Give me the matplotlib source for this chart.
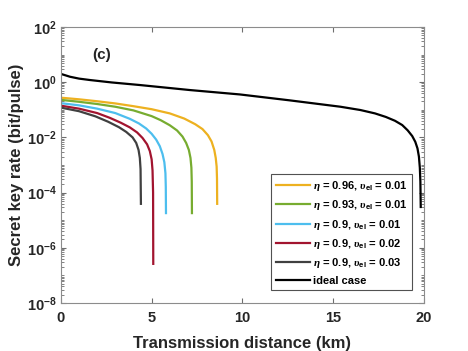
import matplotlib
matplotlib.use('Agg')
import matplotlib.pyplot as plt
from matplotlib.ticker import FixedLocator, NullFormatter, LogFormatterMathtext

plt.rcParams['font.family'] = ['Liberation Sans', 'DejaVu Sans']
plt.rcParams['font.weight'] = 'bold'
plt.rcParams['mathtext.fontset'] = 'custom'
plt.rcParams['mathtext.it'] = 'Liberation Serif:italic'
plt.rcParams['mathtext.rm'] = 'Liberation Sans:bold'
plt.rcParams['mathtext.sf'] = 'Liberation Sans:bold'

# curves (distance km, key rate bit/pulse)
x_096 = [0, 1.0, 2.0, 3.0, 4.0, 5.0, 6.0, 6.8, 7.4, 7.8, 8.1, 8.3, 8.45, 8.53, 8.58, 8.6, 8.61]
y_096 = [0.275, 0.24, 0.204, 0.17, 0.135, 0.105, 0.074, 0.048, 0.030, 0.020, 0.012, 7.1e-3, 3.5e-3, 1.8e-3, 8.7e-4, 3.2e-4, 3.9e-5]

x_093 = [0, 1.0, 2.0, 3.0, 4.0, 5.0, 5.5, 6.0, 6.4, 6.7, 6.9, 7.05, 7.14, 7.19, 7.21, 7.22]
y_093 = [0.229, 0.195, 0.162, 0.129, 0.095, 0.059, 0.042, 0.0275, 0.0178, 0.0107, 6.3e-3, 3.5e-3, 1.8e-3, 7.9e-4, 2.5e-4, 1.8e-5]

x_090a = [0, 1.0, 2.0, 3.0, 3.8, 4.3, 4.7, 5.0, 5.25, 5.45, 5.6, 5.7, 5.76, 5.78, 5.79]
y_090a = [0.174, 0.145, 0.110, 0.076, 0.047, 0.032, 0.021, 0.0135, 8.3e-3, 4.8e-3, 2.5e-3, 1.26e-3, 5.0e-4, 1.6e-4, 1.8e-5]

x_090b = [0, 1.0, 2.0, 2.7, 3.3, 3.8, 4.2, 4.5, 4.75, 4.9, 5.0, 5.05, 5.08, 5.09]
y_090b = [0.141, 0.110, 0.076, 0.051, 0.034, 0.023, 0.0151, 9.5e-3, 5.6e-3, 3.2e-3, 1.6e-3, 6.3e-4, 1e-4, 2.6e-7]

x_090c = [0, 1.0, 1.9, 2.6, 3.2, 3.6, 3.95, 4.15, 4.28, 4.35, 4.39, 4.41]
y_090c = [0.120, 0.089, 0.058, 0.037, 0.0234, 0.0158, 0.010, 6.3e-3, 3.5e-3, 1.8e-3, 7.1e-4, 3.9e-5]

x_ideal = [0, 0.25, 0.5, 1.0, 1.6, 2.8, 4.35, 7.1, 9.86, 12.6, 15.4, 16.5, 17.3, 17.9, 18.4, 18.8,
           19.1, 19.35, 19.52, 19.64, 19.72, 19.77, 19.8, 19.82]
y_ideal = [2.0, 1.78, 1.58, 1.35, 1.20, 0.98, 0.79, 0.52, 0.36, 0.22, 0.129, 0.098, 0.074, 0.055, 0.040, 0.028,
           0.018, 0.0112, 6.9e-3, 4.0e-3, 2.0e-3, 8.0e-4, 2.5e-4, 3.0e-5]

series = [
    (x_096, y_096, '#EDB120', r'$\eta$ = 0.96, $\upsilon_{\mathsf{el}}$ = 0.01'),
    (x_093, y_093, '#77AC30', r'$\eta$ = 0.93, $\upsilon_{\mathsf{el}}$ = 0.01'),
    (x_090a, y_090a, '#4DBEEE', r'$\eta$ = 0.9, $\upsilon_{\mathsf{el}}$ = 0.01'),
    (x_090b, y_090b, '#A2142F', r'$\eta$ = 0.9, $\upsilon_{\mathsf{el}}$ = 0.02'),
    (x_090c, y_090c, '#404040', r'$\eta$ = 0.9, $\upsilon_{\mathsf{el}}$ = 0.03'),
    (x_ideal, y_ideal, 'black', 'ideal case'),
]

fig = plt.figure(figsize=(4.68, 3.51), dpi=100)
ax = fig.add_axes([0.130, 0.137, 0.776, 0.786])

for xs, ys, c, lab in series:
    ax.plot(xs, ys, color=c, lw=1.6, label=lab)

ax.set_yscale('log')
ax.set_xlim(0, 20)
ax.set_ylim(1e-8, 1e2)
ax.set_xticks([0, 5, 10, 15, 20])
ax.set_yticks([1e-8, 1e-6, 1e-4, 1e-2, 1e0, 1e2])
ax.yaxis.set_major_formatter(LogFormatterMathtext())
minor = [m * 10.0 ** e for e in range(-8, 2) for m in range(1, 10) if not (m == 1 and e % 2 == 0)]
ax.yaxis.set_minor_locator(FixedLocator(minor))
ax.yaxis.set_minor_formatter(NullFormatter())

dark = '#262626'
for s in ax.spines.values():
    s.set_color('#8c8c8c')
    s.set_linewidth(0.8)
ax.tick_params(which='both', direction='in', top=True, right=True, color='#6e6e6e', labelcolor=dark)
ax.tick_params(which='major', length=3.5, width=0.8, labelsize=10.5)
ax.tick_params(which='minor', length=2.0, width=0.6)
ax.tick_params(axis='x', which='major', pad=6)
ax.tick_params(axis='y', which='major', pad=3)

ax.set_xlabel('Transmission distance (km)', fontsize=12, fontweight='bold', color=dark, labelpad=8)
ax.set_ylabel('Secret key rate (bit/pulse)', fontsize=12, fontweight='bold', color=dark, labelpad=2)

ax.text(0.087, 0.885, '(c)', transform=ax.transAxes, fontsize=11, fontweight='bold', color=dark)

leg = ax.legend(loc='lower right', bbox_to_anchor=(0.967, 0.047), fontsize=8, frameon=True,
                fancybox=False, edgecolor=dark, handlelength=3.05, handletextpad=0.27,
                labelspacing=0.48, borderpad=0.4, borderaxespad=0)
leg.get_frame().set_linewidth(0.8)

fig.savefig('out.png', dpi=100)
